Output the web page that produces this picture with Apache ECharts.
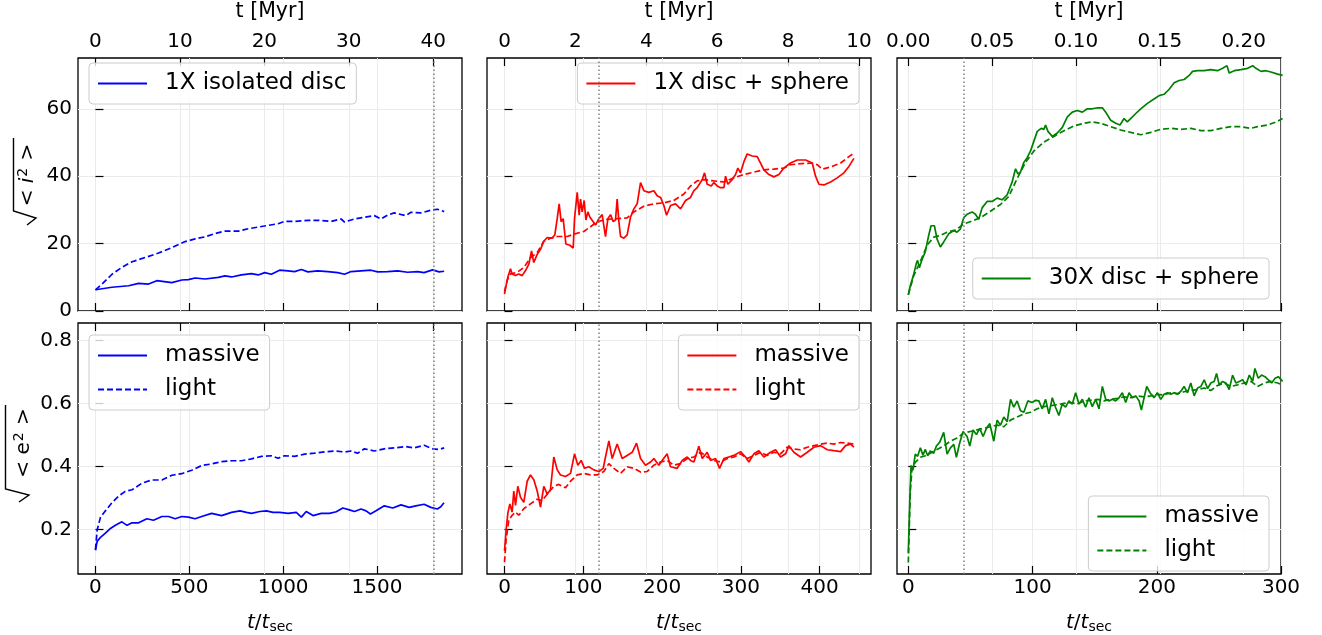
<!DOCTYPE html>
<html><head><meta charset="utf-8">
<script src="https://cdn.jsdelivr.net/npm/echarts@6/dist/echarts.min.js"></script>
<style>html,body{margin:0;padding:0;background:#fff}#c{width:1322px;height:635px}</style>
</head><body><div id="c"></div>
<script>
// ---------- data: [t/t_sec, value] ----------
const iso_i_massive = [[0,6.3],[88,7.05],[177,7.5],[230,8.2],[283,8.0],[327,9.0],[407,8.4],[460,9.2],[495,9.3],[531,9.8],[584,9.5],[655,10.0],[690,10.4],[725,10.1],[778,10.7],[831,11.1],[867,10.7],[902,11.4],[937,10.9],[981,12.1],[1026,11.9],[1061,11.7],[1097,12.3],[1132,11.6],[1185,11.9],[1238,11.7],[1291,11.4],[1327,10.9],[1362,11.7],[1415,11.9],[1468,12.1],[1504,11.6],[1557,11.7],[1610,11.9],[1663,11.5],[1716,11.7],[1751,11.4],[1796,12.2],[1831,11.6],[1858,11.8]];
const iso_i_light = [[0,6.3],[35,8.0],[88,10.9],[142,13.0],[195,14.6],[266,15.9],[336,17.2],[407,18.8],[478,20.6],[531,21.4],[584,22.0],[637,23.0],[690,23.7],[761,23.7],[814,24.4],[867,24.9],[920,25.4],[973,25.9],[1008,26.6],[1061,26.6],[1132,26.9],[1185,26.9],[1256,26.6],[1309,27.3],[1327,26.4],[1380,27.3],[1433,27.8],[1486,28.3],[1522,27.3],[1557,28.5],[1592,29.1],[1654,28.3],[1681,29.3],[1734,29.1],[1787,29.9],[1822,30.2],[1858,29.5]];
const sph1_i_massive = [[0,5.0],[1.3,6.7],[4.2,10.0],[7.6,12.5],[9.7,11.0],[14,10.5],[18,11.0],[22.4,10.5],[26.7,12.0],[30.9,13.9],[34.3,17.8],[37.2,14.4],[41.5,16.8],[45.7,18.3],[49.9,20.7],[54.2,21.8],[60.5,21.6],[63.9,22.6],[66.9,27.4],[69.4,31.8],[71.9,26.5],[74.5,27.4],[76.2,23.6],[77.9,19.9],[83,19.5],[87.2,18.7],[88.9,27.4],[92.3,35.2],[94.8,28.4],[96.5,33.2],[98.6,29.4],[101.1,32.8],[103.3,27.0],[105.8,29.4],[108.3,27.9],[112.6,26.5],[115.5,25.5],[119.8,27.4],[124,28.6],[128.2,22.1],[131.2,27.4],[134.6,28.6],[138,26.5],[140.9,27.0],[143,33.2],[145.2,26.5],[147.3,22.1],[151.5,21.6],[155.7,22.6],[160,27.9],[164.2,30.3],[168.4,31.8],[172.7,38.1],[176.9,35.7],[183.2,35.2],[189.6,35.7],[193.8,34.2],[198.1,33.7],[202.3,31.3],[205.7,28.4],[210.8,31.3],[217.1,31.8],[223.5,30.3],[229.8,32.8],[236.1,33.7],[240.4,35.7],[244.6,36.6],[251,39.0],[253.9,41.0],[257.3,37.6],[262.4,37.1],[265.8,38.1],[270,37.1],[274.2,36.6],[278.5,36.6],[280.6,40.0],[283.5,37.6],[289,39.0],[293.3,40.5],[296.2,42.4],[299.6,41.0],[303.9,44.3],[308.1,46.6],[314.4,46.0],[320.8,45.8],[325,43.9],[329.2,41.9],[335.6,40.5],[341.9,39.8],[348.3,40.5],[354.6,42.4],[363,43.9],[371.6,44.8],[382.2,44.8],[390.6,43.9],[394.8,40.0],[399.1,37.6],[405.4,37.4],[413.9,38.3],[422.3,39.5],[430.8,41.0],[437.2,42.9],[443.5,45.3]];
const sph1_i_light = [[0,5.7],[3.4,9.1],[7.6,11.0],[16.1,11.5],[24.5,12.9],[33,15.8],[41.5,17.3],[49.9,20.7],[58.4,21.6],[66.9,22.1],[79.6,22.1],[88,22.8],[100.7,23.6],[109.2,25.0],[117.6,26.5],[130.3,27.2],[143,27.4],[155.7,27.6],[164.2,29.4],[176.9,31.1],[189.6,31.8],[202.3,32.1],[215,32.8],[227.7,34.7],[236.1,37.1],[244.6,38.6],[253.1,39.0],[265.8,38.6],[278.5,38.3],[291.1,39.5],[303.9,40.5],[316.5,41.2],[329.2,41.9],[341.9,42.1],[354.6,42.4],[363,43.4],[376,43.7],[388.5,43.9],[397,43.4],[403.3,42.1],[413.9,42.7],[426.6,43.9],[437.2,45.8],[443.5,46.8]];
const sph30_i_massive = [[0,4.8],[1.6,7.5],[4.3,10.8],[6.5,14.2],[7.5,15.0],[8.9,12.8],[11,15.2],[13.7,17.6],[16.4,22.4],[18.3,25.3],[21,25.3],[23.1,21.4],[25.8,19.0],[28.5,20.5],[32.5,22.9],[36.6,23.9],[39.2,23.4],[41.9,24.3],[44.6,27.7],[47.3,28.7],[51.3,29.4],[54,28.7],[56.7,27.2],[59.4,30.6],[63.4,32.5],[67.5,32.5],[71.5,33.5],[75.5,33.0],[79.6,34.5],[83.6,38.3],[86.3,42.2],[88.2,40.7],[90.3,41.2],[93,44.1],[95.7,45.5],[98.4,47.5],[101.1,50.4],[103.8,53.3],[107,54.2],[109.1,53.9],[110.5,55.2],[112.4,53.3],[115.9,51.8],[119.9,52.8],[124,54.5],[128,57.6],[132,59.0],[136,59.5],[140.1,59.0],[144.1,60.0],[148.1,60.0],[152.2,60.3],[156.2,60.3],[158.9,59.0],[162.9,56.6],[167,55.7],[170.4,55.2],[173.7,57.1],[176.3,56.1],[179,57.1],[183.1,58.6],[187.1,60.0],[192.5,61.6],[197.8,62.9],[201.9,63.9],[205.9,64.3],[210,65.8],[214,67.7],[218,68.4],[222,68.7],[226.1,69.9],[228.8,71.1],[232.8,71.3],[238.2,71.3],[243.5,71.6],[248.9,71.3],[253,72.0],[256.5,72.8],[258.3,70.6],[262.4,71.3],[267.7,71.6],[273.1,72.0],[277.2,72.8],[279.8,72.0],[283.9,71.1],[287.9,71.3],[291.9,70.9],[297.3,70.3],[301.3,69.9]];
const sph30_i_light = [[0,4.8],[4.3,10.4],[9.7,14.7],[15.1,19.5],[20.4,21.9],[25.8,22.4],[31.2,23.4],[37.9,24.0],[44.6,25.8],[51.3,26.7],[58.1,27.7],[66.1,29.6],[74.2,31.6],[80.9,34.0],[87.6,39.3],[94.4,44.1],[101.1,47.5],[109.1,50.1],[117.2,51.8],[125.3,53.5],[133.3,54.9],[141.4,55.7],[148.1,56.1],[154.8,55.7],[162.9,54.7],[171,53.7],[179,53.0],[187.1,52.3],[195.2,53.0],[203.2,53.9],[211.3,54.2],[219.4,53.9],[227.4,54.2],[235.5,53.5],[243.5,53.5],[251.6,54.2],[259.7,54.7],[267.7,54.7],[275.8,54.2],[281.2,54.7],[289.2,55.2],[296,56.1],[301.3,57.1]];
const iso_e_massive = [[0,0.134],[9,0.162],[27,0.175],[53,0.188],[80,0.203],[106,0.213],[141,0.224],[168,0.213],[195,0.221],[230,0.221],[274,0.234],[309,0.229],[354,0.241],[389,0.241],[425,0.234],[460,0.241],[495,0.239],[531,0.234],[566,0.241],[619,0.251],[672,0.244],[725,0.254],[770,0.259],[805,0.254],[831,0.251],[876,0.257],[911,0.259],[946,0.254],[982,0.254],[1026,0.251],[1070,0.254],[1097,0.239],[1123,0.257],[1159,0.244],[1203,0.251],[1247,0.251],[1283,0.256],[1318,0.268],[1353,0.262],[1380,0.257],[1415,0.265],[1442,0.259],[1465,0.249],[1495,0.259],[1539,0.275],[1584,0.268],[1628,0.278],[1672,0.270],[1707,0.275],[1751,0.280],[1787,0.270],[1822,0.265],[1840,0.272],[1857,0.285]];
const iso_e_light = [[0,0.136],[9,0.198],[27,0.239],[53,0.259],[88,0.285],[124,0.306],[159,0.321],[195,0.326],[248,0.347],[301,0.357],[354,0.357],[407,0.372],[460,0.377],[513,0.388],[566,0.403],[619,0.408],[672,0.415],[725,0.418],[778,0.418],[831,0.424],[885,0.432],[938,0.434],[973,0.426],[1008,0.434],[1061,0.432],[1114,0.439],[1167,0.442],[1221,0.446],[1274,0.449],[1327,0.446],[1362,0.449],[1397,0.442],[1433,0.456],[1486,0.449],[1539,0.456],[1592,0.459],[1654,0.463],[1698,0.459],[1751,0.467],[1796,0.456],[1831,0.454],[1858,0.459]];
const sph1_e_massive = [[0,0.132],[2.1,0.199],[4.2,0.250],[6.8,0.281],[9.7,0.255],[11.8,0.322],[14,0.276],[16.9,0.337],[20.3,0.302],[24.5,0.286],[28.8,0.353],[33,0.373],[37.2,0.358],[41.5,0.322],[45.7,0.271],[49.9,0.337],[54.2,0.312],[58.4,0.327],[62.6,0.430],[66.9,0.389],[71.1,0.373],[77.4,0.368],[83.8,0.378],[88.9,0.440],[93.1,0.404],[97.3,0.419],[101.6,0.394],[107,0.399],[113.4,0.389],[119.8,0.384],[125.3,0.394],[128.2,0.430],[132.5,0.481],[136.7,0.425],[143,0.471],[149.4,0.425],[155.7,0.435],[162.1,0.445],[167.6,0.474],[172.7,0.425],[179,0.404],[185.4,0.414],[189.6,0.425],[195.9,0.404],[200.1,0.419],[206.5,0.440],[210.7,0.399],[219.2,0.394],[225.6,0.419],[231.9,0.430],[236.1,0.419],[240.4,0.414],[246.7,0.464],[251,0.425],[257.3,0.445],[261.5,0.419],[267.9,0.425],[273,0.394],[278.5,0.425],[284.8,0.430],[291.2,0.435],[299.6,0.447],[306,0.430],[310.2,0.414],[316.5,0.440],[322.9,0.450],[329.2,0.430],[337.7,0.445],[344.1,0.453],[350.4,0.430],[356.8,0.440],[361,0.466],[367.3,0.445],[375.8,0.430],[384.3,0.445],[392.7,0.461],[401.2,0.466],[409.7,0.453],[418.1,0.450],[426.6,0.447],[432.9,0.466],[439.3,0.471],[443.5,0.461]];
const sph1_e_light = [[0,0.096],[2.1,0.168],[5.5,0.230],[9.7,0.245],[14,0.255],[18.2,0.245],[24.5,0.266],[33,0.281],[41.5,0.296],[47.8,0.291],[54.2,0.312],[62.6,0.337],[69,0.343],[77.4,0.332],[83.8,0.353],[92.3,0.373],[100.7,0.378],[109.2,0.373],[117.6,0.373],[126.1,0.384],[132.5,0.409],[138.8,0.394],[147.3,0.378],[155.7,0.399],[164.2,0.394],[172.7,0.382],[181.1,0.384],[189.6,0.404],[198.1,0.414],[206.5,0.419],[215,0.404],[223.5,0.409],[231.9,0.425],[240.4,0.430],[248.8,0.445],[257.3,0.430],[265.8,0.419],[274.2,0.414],[282.7,0.425],[291.2,0.430],[299.6,0.440],[308.1,0.425],[316.5,0.435],[325,0.445],[333.5,0.435],[341.9,0.445],[350.4,0.440],[358.8,0.461],[367.3,0.455],[375.8,0.453],[384.3,0.461],[392.7,0.466],[401.2,0.471],[409.7,0.474],[418.1,0.471],[426.6,0.476],[435.1,0.474],[443.5,0.471]];
const sph30_e_massive = [[0,0.126],[1.1,0.280],[2.2,0.403],[3.8,0.388],[5.6,0.439],[7.5,0.432],[9.7,0.459],[11.8,0.436],[13.7,0.454],[15.6,0.434],[17.7,0.449],[20.4,0.442],[22.6,0.465],[25.3,0.477],[28.5,0.508],[31.2,0.439],[33.9,0.459],[36.6,0.470],[38.7,0.429],[41.4,0.475],[44.1,0.511],[47.3,0.495],[49.5,0.465],[52.2,0.516],[54.8,0.501],[57.5,0.521],[60.2,0.495],[62.9,0.521],[65.6,0.536],[68.8,0.480],[71.5,0.547],[74.2,0.531],[76.9,0.557],[79.6,0.542],[82.3,0.613],[84.9,0.588],[87.6,0.608],[90.3,0.577],[93,0.572],[96.2,0.608],[99.7,0.603],[102.4,0.610],[105.1,0.608],[107.8,0.583],[110.5,0.613],[113.2,0.567],[115.9,0.618],[118.5,0.588],[121.2,0.562],[123.9,0.598],[126.6,0.588],[129.3,0.608],[132,0.598],[134.7,0.634],[137.4,0.598],[140.1,0.613],[142.7,0.588],[145.4,0.618],[148.1,0.590],[150.8,0.613],[153.5,0.583],[156.2,0.654],[158.9,0.613],[161.6,0.608],[164.2,0.613],[166.9,0.608],[169.6,0.618],[172.3,0.634],[175,0.603],[177.7,0.634],[180.4,0.618],[183.1,0.624],[185.8,0.608],[187.6,0.579],[189.8,0.618],[191.9,0.654],[194.6,0.634],[197.8,0.618],[200.5,0.634],[203.2,0.613],[205.9,0.629],[208.6,0.634],[211.3,0.629],[214,0.634],[216.7,0.629],[219.4,0.639],[222,0.654],[224.7,0.634],[227.4,0.665],[230.1,0.624],[232.8,0.649],[235.5,0.654],[238.2,0.675],[240.9,0.647],[243.5,0.665],[246.2,0.670],[248.1,0.695],[250.3,0.659],[253,0.670],[255.6,0.665],[258.3,0.644],[261,0.690],[263.7,0.665],[266.4,0.670],[269.1,0.675],[271.8,0.659],[274.5,0.690],[277.2,0.670],[279,0.711],[281.7,0.680],[284.4,0.690],[287.1,0.685],[289.8,0.675],[292.5,0.665],[295.2,0.680],[297.8,0.685],[301.3,0.670]];
const sph30_e_light = [[0,0.095],[1.6,0.321],[3,0.393],[5.6,0.413],[9.7,0.429],[13.7,0.434],[17.7,0.442],[23.1,0.454],[28.5,0.465],[33.9,0.480],[39.2,0.490],[44.6,0.506],[50,0.511],[55.4,0.516],[60.8,0.521],[66.1,0.526],[71.5,0.531],[76.9,0.526],[82.3,0.547],[87.6,0.557],[93,0.567],[98.4,0.572],[103.8,0.583],[109.1,0.590],[114.5,0.593],[119.9,0.596],[125.3,0.600],[130.6,0.603],[136,0.598],[141.4,0.608],[146.8,0.610],[152.2,0.613],[157.5,0.608],[162.9,0.613],[168.3,0.616],[173.7,0.621],[179,0.618],[184.4,0.624],[189.8,0.621],[195.2,0.624],[200.5,0.629],[205.9,0.627],[211.3,0.634],[216.7,0.631],[222,0.637],[227.4,0.641],[232.8,0.644],[238.2,0.649],[243.5,0.641],[248.9,0.657],[254.3,0.665],[259.7,0.654],[265,0.659],[270.4,0.665],[275.8,0.670],[281.2,0.654],[286.5,0.665],[291.9,0.670],[297.3,0.665],[301.3,0.659]];

// tick labels / markers
const tsecTicks = [[0,500,1000,1500],[0,100,200,300,400],[0,100,200,300]];
const myrTicks = [[0,10,20,30,40],[0,2,4,6,8,10],[0,0.05,0.10,0.15,0.20]];
const iTicks = [0,20,40,60];
const eTicks = [0.2,0.4,0.6,0.8];
const vlineT = [1800,120,45];          // dotted marker (t/t_sec)
const tsecPerMyr = [45,45,1350];
const topLegend = ['1X isolated disc','1X disc + sphere','30X disc + sphere'];
const colors = ['#0000ff','#ff0000','#008000'];

// ---------- layout ----------
const FONT = 'DejaVu Sans';
const colLeft = [78,487,897], W = 384, H = 259, rowTop = [52,323];
const xRange = [[-93,1953],[-22.2,465.2],[-9.1,300]];
const yRange = [[0,75.07],[0.0585,0.8554]];

const grids=[], xAxes=[], yAxes=[], series=[], legends=[];
const tickStyle = {show:true, inside:true, length:8, lineStyle:{color:'#000', width:1.2}};
const splitStyle = {show:true, lineStyle:{color:'#ebebeb', width:1}};
const lblStyle = {color:'#000', fontSize:20, fontFamily:FONT};

for (let r=0;r<2;r++) for (let c=0;c<3;c++) {
  const gi = r*3+c;
  grids.push({left:colLeft[c], top:rowTop[r], width:W, height:H, show:true, borderColor:'#000', borderWidth:1.3, backgroundColor:'transparent'});
  xAxes.push({type:'value', gridIndex:gi, position:'bottom', min:xRange[c][0], max:xRange[c][1],
    axisLine:{show:false}, axisTick:Object.assign({customValues:tsecTicks[c]}, tickStyle),
    axisLabel:Object.assign({show:r===1, customValues:tsecTicks[c], margin:4, formatter:v=>String(v)}, lblStyle),
    splitLine:splitStyle,
    name: r===1 ? '{i|t}/{i|t}{s|sec}' : '', nameLocation:'middle', nameGap:37,
    nameTextStyle:{color:'#000', fontFamily:FONT, fontSize:20, rich:{i:{fontStyle:'italic', fontSize:20, fontFamily:FONT, color:'#000'}, s:{fontSize:14, fontFamily:FONT, color:'#000', padding:[9,0,0,0]}}}
  });
  xAxes.push({type:'value', gridIndex:gi, position:'top', min:xRange[c][0]/tsecPerMyr[c], max:xRange[c][1]/tsecPerMyr[c],
    axisLine:{show:false}, axisTick:Object.assign({customValues:myrTicks[c]}, tickStyle),
    axisLabel:Object.assign({show:r===0, customValues:myrTicks[c], margin:6, formatter: c===2 ? (v=>v.toFixed(2)) : (v=>String(v))}, lblStyle),
    splitLine:splitStyle,
    name: r===0 ? 't [Myr]' : '', nameLocation:'middle', nameGap:36,
    nameTextStyle:{color:'#000', fontFamily:FONT, fontSize:20.5}
  });
  const yt = r===0 ? iTicks : eTicks;
  yAxes.push({type:'value', gridIndex:gi, min:yRange[r][0], max:yRange[r][1],
    axisLine:{show:false}, axisTick:Object.assign({customValues:yt}, tickStyle),
    axisLabel:Object.assign({show:c===0, customValues:yt, margin:6, formatter: r===0 ? (v=>String(v)) : (v=>v.toFixed(1))}, lblStyle),
    splitLine:splitStyle
  });
}

function mk(name, data, color, dashed, gi, vline) {
  const s = {type:'line', name, data, xAxisIndex:2*gi, yAxisIndex:gi, symbol:'none', showSymbol:false,
    animation:false, clip:true, z:3, lineStyle:{color, width:1.7, type: dashed ? [6,3] : 'solid'}, itemStyle:{color}};
  if (vline!=null) s.markLine = {silent:true, symbol:['none','none'], animation:false, label:{show:false},
    lineStyle:{color:'#808080', width:1.5, type:[1.5,2.5]}, data:[{xAxis:vline}]};
  return s;
}
const iM=[iso_i_massive,sph1_i_massive,sph30_i_massive], iL=[iso_i_light,sph1_i_light,sph30_i_light];
const eM=[iso_e_massive,sph1_e_massive,sph30_e_massive], eL=[iso_e_light,sph1_e_light,sph30_e_light];
for (let c=0;c<3;c++) {
  series.push(mk(topLegend[c], iM[c], colors[c], false, c, vlineT[c]));
  series.push(mk('light_i#'+c, iL[c], colors[c], true, c));
  series.push(mk('massive#'+c, eM[c], colors[c], false, 3+c, vlineT[c]));
  series.push(mk('light#'+c, eL[c], colors[c], true, 3+c));
}

const legBase = {orient:'vertical', itemWidth:49, itemHeight:14, itemGap:11, padding:[9,10,9,8],
  backgroundColor:'rgba(255,255,255,0.8)', borderColor:'#cccccc', borderWidth:1, borderRadius:4,
  selectedMode:false, itemStyle:{opacity:0, borderWidth:0}, formatter: n => '{t|'+n.split('#')[0]+'}',
  textStyle:{color:'#000', fontSize:23, fontFamily:FONT, rich:{t:{fontSize:23, fontFamily:FONT, color:'#000', padding:[0,0,0,13]}}}};
legends.push(Object.assign({left:89, top:63, data:[topLegend[0]]}, legBase));
legends.push(Object.assign({right:463, top:63, data:[topLegend[1]]}, legBase));
legends.push(Object.assign({right:53, top:258, data:[topLegend[2]]}, legBase));
legends.push(Object.assign({left:89, top:335, data:['massive#0','light#0']}, legBase));
legends.push(Object.assign({right:463, top:335, data:['massive#1','light#1']}, legBase));
legends.push(Object.assign({right:53, top:496, data:['massive#2','light#2']}, legBase));

// y-axis titles: rotated text + radical sign
const yTitles = [
  {text:'< {i|i}{s|2} >', cx:28, cy:175, rad:[[27,225],[36,218],[13.5,211],[13.5,138]]},
  {text:'< e{s|2} >', cx:24, cy:443, rad:[[19,502],[29,495],[5.5,489],[5.5,405]]}
];
const graphic = [];
yTitles.forEach(t => {
  graphic.push({type:'text', x:t.cx, y:t.cy, rotation:Math.PI/2, silent:true,
    style:{text:t.text, fill:'#000', font:'20px "DejaVu Sans"', align:'center', verticalAlign:'middle',
      rich:{i:{fontStyle:'italic', fontSize:20, fontFamily:FONT, fill:'#000'},
            s:{fontSize:14, fontFamily:FONT, fill:'#000', padding:[0,1,10,1]}}}});
  graphic.push({type:'polyline', silent:true, shape:{points:t.rad}, style:{stroke:'#000', lineWidth:1.4, fill:null}});
});

const chart = echarts.init(document.getElementById('c'), null, {renderer:'canvas'});
chart.setOption({animation:false, backgroundColor:'#fff', grid:grids, xAxis:xAxes, yAxis:yAxes, series, legend:legends, graphic});
</script></body></html>
